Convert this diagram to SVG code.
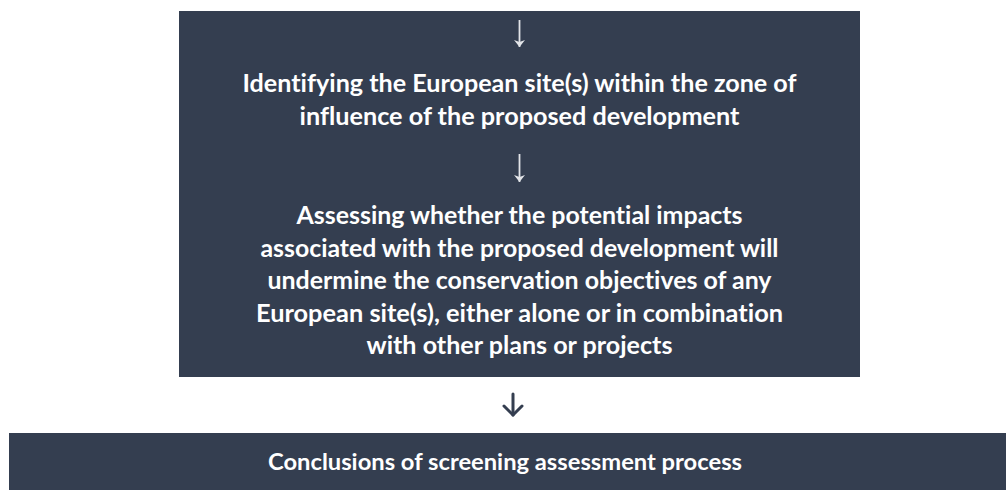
<svg xmlns="http://www.w3.org/2000/svg" width="1006" height="490" viewBox="0 0 1006 490">
  <defs>
    <marker id="headLight" viewBox="0 0 7 11" refX="7" refY="5.5" markerWidth="7" markerHeight="11" markerUnits="userSpaceOnUse" orient="auto">
      <path d="M0,0 L7,5.5 L0,11 L2,5.5 Z" fill="#e2e4e8"/>
    </marker>
  </defs>
  <style>
    .box { fill: #343e50; }
    .txt { font-family: Lato, "Open Sans", "Liberation Sans", sans-serif; font-weight: 700; font-size: 24px; fill: #ffffff; text-anchor: middle; font-variant-ligatures: none; font-feature-settings: "liga" 0, "clig" 0; }
    .small { font-size: 23px; }
    .inner { stroke: #e2e4e8; stroke-width: 1.8; fill: none; }
    .outer { stroke: #343e50; stroke-width: 3; fill: none; stroke-linecap: round; stroke-linejoin: round; }
  </style>
  <rect width="1006" height="490" fill="#ffffff"/>
  <g id="node-main">
    <rect class="box" x="179" y="11" width="681" height="366"/>
    <text class="txt" x="519.5" y="92" textLength="554" lengthAdjust="spacingAndGlyphs">Identifying the European site(s) within the zone of</text>
    <text class="txt" x="519.5" y="124.5" textLength="440" lengthAdjust="spacingAndGlyphs">influence of the proposed development</text>
    <text class="txt" x="519.5" y="224" textLength="446" lengthAdjust="spacingAndGlyphs">Assessing whether the potential impacts</text>
    <text class="txt" x="519.5" y="256.5" textLength="518" lengthAdjust="spacingAndGlyphs">associated with the proposed development will</text>
    <text class="txt" x="519.5" y="289" textLength="504" lengthAdjust="spacingAndGlyphs">undermine the conservation objectives of any</text>
    <text class="txt" x="519.5" y="321.5" textLength="527" lengthAdjust="spacingAndGlyphs">European site(s), either alone or in combination</text>
    <text class="txt" x="519.5" y="354" textLength="306" lengthAdjust="spacingAndGlyphs">with other plans or projects</text>
  </g>
  <g id="node-conclusions">
    <rect class="box" x="9" y="433" width="997" height="57"/>
    <text class="txt small" x="505" y="470" textLength="474" lengthAdjust="spacingAndGlyphs">Conclusions of screening assessment process</text>
  </g>
  <g id="connectors">
    <line class="inner" x1="519.5" y1="20" x2="519.5" y2="47" marker-end="url(#headLight)"/>
    <line class="inner" x1="519.5" y1="154" x2="519.5" y2="182" marker-end="url(#headLight)"/>
    <line class="outer" x1="513" y1="394" x2="513" y2="415"/>
    <polyline class="outer" points="504,406 513,415 522,406"/>
  </g>
</svg>
